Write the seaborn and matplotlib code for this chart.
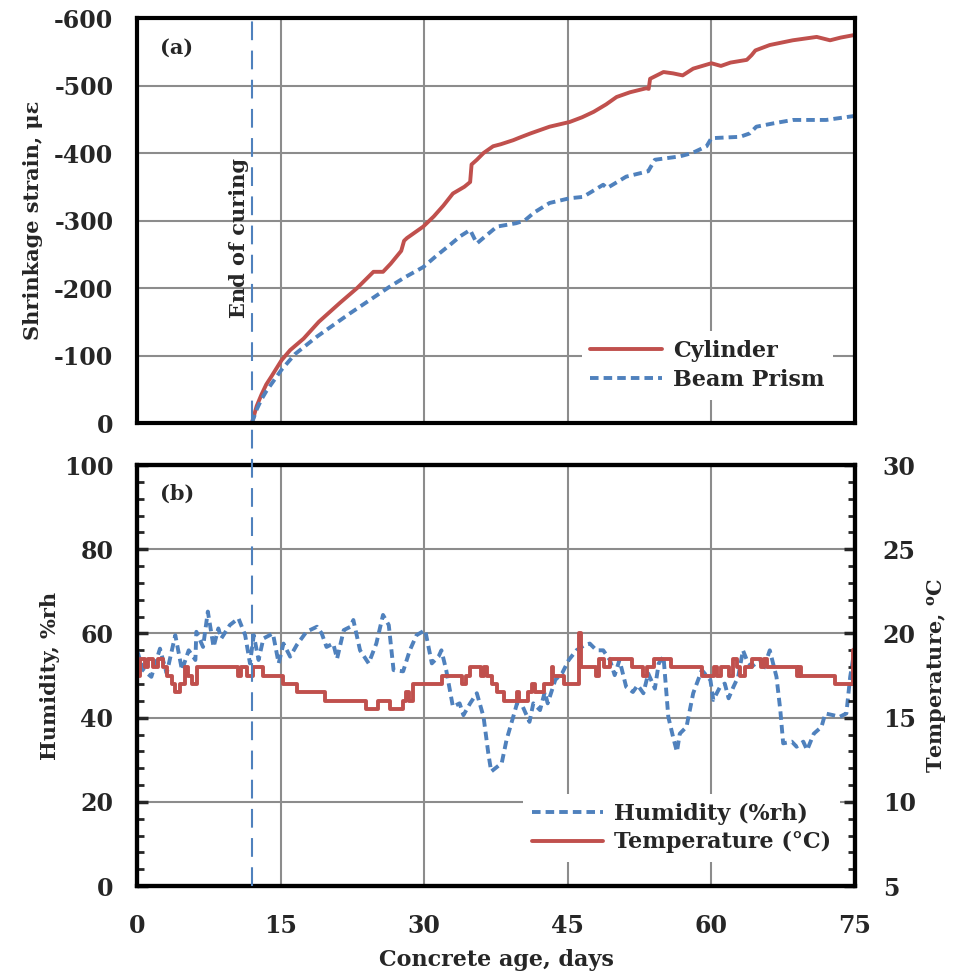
import numpy as np
import pandas as pd
import seaborn as sns
import matplotlib
import matplotlib.pyplot as plt
from matplotlib.ticker import MultipleLocator
from matplotlib.lines import Line2D
from matplotlib.transforms import blended_transform_factory

matplotlib.use('Agg')

# day when curing stopped
curing_end = 12

# (a) shrinkage strain, micro-strain
cyl_days = [12, 12.5, 13, 13.5, 14, 15.1, 16, 17.4, 19, 21.2, 23, 24.7, 25.7, 26.5, 27.6, 27.9, 28.2,
            29.9, 31, 32, 33, 34.2, 34.8, 34.95, 35.5, 36.2, 37.2, 38, 39.3, 40, 41.1, 42.1, 43.1, 45.2,
            46.5, 47.7, 49, 50.1, 51.5, 53.2, 53.45, 53.6, 55, 56, 57, 58.1, 60, 61, 62, 63.7, 64.2,
            64.6, 66.1, 68.5, 71, 72.4, 73.5, 75]
cyl_strain = [0, -25, -42, -57, -68, -93, -108, -125, -150, -178, -200, -224, -224, -236, -255, -270, -274,
              -291, -306, -322, -340, -350, -357, -383, -390, -400, -410, -413, -419, -423, -429, -434, -439,
              -446, -453, -461, -472, -483, -490, -496, -495, -510, -520, -518, -515, -525, -533, -529,
              -534, -538, -545, -552, -560, -567, -572, -567, -571, -575]

beam_days = [12, 12.5, 13, 13.5, 14, 15.1, 16.5, 18.8, 20.5, 22.2, 24.3, 26.4, 28, 29.9, 31.3, 32.7, 33.8,
             34.8, 35.5, 36.5, 37.6, 39.6, 40.5, 41.5, 43.1, 45.2, 46.6, 48.7, 49.1, 51.1, 53.4, 54.1,
             56.7, 58, 59.5, 60, 63, 64, 64.7, 66.5, 68.5, 72, 75]
beam_strain = [0, -20, -35, -47, -57, -79, -102, -128, -145, -162, -182, -202, -216, -231, -248, -264, -277,
               -286, -266, -278, -291, -296, -300, -312, -326, -333, -335, -353, -348, -365, -373, -390,
               -395, -400, -410, -422, -424, -429, -439, -444, -449, -449, -455]

# (b) ambient humidity (%rh)
hum_days = [0, 0.66, 1.5, 2.4, 3.1, 4.0, 4.7, 5.4, 6.1, 6.2,
            6.9, 7.4, 8.0, 8.5, 8.8, 9.7, 10.6, 11.3, 11.8, 12.2,
            12.7, 13.2, 14.2, 14.8, 15.3, 16.0, 16.7, 17.7, 18.8, 19.3,
            19.8, 20.5, 20.9, 21.6, 22.3, 22.6, 23.3, 24.2, 25.0, 25.7,
            26.3, 26.8, 27.8, 28.5, 29.2, 30.1, 30.8, 31.5, 31.8, 32.3,
            33.0, 33.7, 34.1, 34.8, 35.5, 36.2, 36.7, 37.0, 38.1, 38.6,
            39.3, 39.7, 40.3, 41.0, 41.4, 42.1, 42.6, 42.9, 43.7, 44.4,
            45.1, 45.9, 46.8, 47.3, 48.0, 48.7, 49.4, 49.9, 50.4, 51.1,
            51.8, 52.3, 52.9, 53.4, 54.1, 54.5, 55.0, 55.5, 56.0, 56.4,
            56.7, 57.4, 58.1, 59.0, 59.9, 60.2, 60.9, 61.4, 61.8, 62.3,
            62.8, 63.3, 63.7, 64.2, 65.1, 65.4, 66.1, 66.8, 67.2, 67.5,
            68.4, 68.9, 69.6, 70.0, 70.7, 71.5, 71.9, 72.7, 73.4, 74.1,
            74.5, 75.0]
hum_vals = [56, 51.3, 49.7, 56.4, 50.5, 59.6, 51.3, 56, 53.7, 60.4,
            56.8, 65.2, 56.8, 61.2, 58.8, 62, 63.6, 59.6, 52.9, 59.6,
            53.7, 58.8, 60, 52.9, 57.6, 54.5, 57.3, 60.4, 61.6, 60,
            56.8, 57.6, 54, 60.8, 61.6, 63.2, 56, 52.9, 57.6, 64.4,
            62, 51.3, 51, 56, 59.6, 60.8, 52.9, 54.5, 56, 51.3,
            42.6, 43.4, 40.6, 43.4, 45.8, 40.2, 31.5, 27.2, 29.2, 34.7,
            40.2, 43.4, 42.6, 39, 43.4, 41.8, 46.1, 43.4, 49, 50.5,
            53.7, 56, 57.3, 57.6, 56, 56, 53.7, 50.1, 53.7, 47.3,
            46.1, 47.7, 45.8, 50.5, 46.9, 52.9, 54.5, 40.2, 35.4, 31.9,
            36.2, 37.8, 45.8, 51.3, 48.9, 44.2, 47.3, 48.1, 44.6, 47.3,
            49.7, 56, 53.7, 52.1, 53.7, 51.3, 56, 49.7, 41.8, 33.9,
            34.3, 33.1, 34.3, 32.3, 36.2, 37.8, 41, 40.6, 40.2, 41,
            49.7, 56.8]

# (b) ambient temperature (C), logged in 0.5 degree steps
temp_days = [0, 0.3, 0.8, 1.2, 1.7, 2.2, 2.7, 3.1, 3.7, 4.0,
             4.5, 5.0, 5.3, 5.7, 6.3, 10.5, 10.9, 11.5, 12.1, 13.2,
             15.3, 16.7, 19.6, 23.9, 25.2, 26.4, 27.8, 28.1, 28.4, 28.8,
             31.9, 33.9, 34.4, 34.8, 35.9, 36.3, 36.6, 37.1, 37.6, 38.3,
             39.7, 39.9, 40.8, 41.3, 41.6, 42.5, 43.3, 43.5, 44.6, 46.2,
             46.35, 47.9, 48.3, 48.8, 49.4, 51.7, 52.9, 53.3, 54.0, 55.8,
             59.0, 60.3, 60.6, 61.0, 61.85, 62.3, 62.7, 63.0, 63.5, 64.2,
             65.15, 65.5, 65.8, 68.9, 69.2, 69.4, 72.9, 74.8, 74.95, 75.0]
temp_vals = [17.5, 18.5, 18, 18.5, 18, 18.5, 18, 17.5, 17, 16.5,
             17, 18, 17.5, 17, 18, 17.5, 18, 17.5, 18, 17.5,
             17, 16.5, 16, 15.5, 16, 15.5, 16, 16.5, 16, 17,
             17.5, 17, 17.5, 18, 17.5, 18, 17.5, 17, 16.5, 16,
             16.5, 16, 16.5, 17, 16.5, 17, 18, 17.5, 17, 20,
             18, 17.5, 18.5, 18, 18.5, 18, 17.5, 18, 18.5, 18,
             17.5, 18, 17.5, 18, 17.5, 18.5, 18, 17.5, 18, 18.5,
             18, 18.5, 18, 17.5, 18, 17.5, 17, 19, 17.5, 17.5]

sns.set_style("white")
plt.rcParams['font.family'] = ['DejaVu Serif']
plt.rcParams['font.weight'] = 'bold'
plt.rcParams['axes.unicode_minus'] = False
plt.rcParams['mathtext.fontset'] = 'dejavuserif'

red = '#C0504D'
blue = '#4F81BD'
grid_c = '#8C8C8C'

fig = plt.figure(figsize=(9.54, 9.74), dpi=100)
ax1 = fig.add_axes([0.1436, 0.5657, 0.7526, 0.4158])
ax2 = fig.add_axes([0.1436, 0.0903, 0.7526, 0.4322])
ax3 = ax2.twinx()

# ---- (a) shrinkage
sns.lineplot(x=cyl_days, y=cyl_strain, ax=ax1, color=red, lw=2.8, sort=False,
             estimator=None, label='Cylinder')
sns.lineplot(x=beam_days, y=beam_strain, ax=ax1, color=blue, lw=2.8, sort=False,
             estimator=None, linestyle=(0, (2.2, 1.3)), label='Beam Prism')

ax1.set_xlim(0, 75)
ax1.set_ylim(0, -600)
ax1.set_xticks(range(0, 76, 15))
ax1.set_yticks(range(0, -601, -100))
ax1.xaxis.set_minor_locator(MultipleLocator(3))
ax1.yaxis.set_minor_locator(MultipleLocator(20))
ax1.tick_params(which='both', direction='in', top=False, right=False, labelbottom=False)
ax1.tick_params(which='major', length=8, width=2.5, labelsize=17, pad=17)
ax1.tick_params(which='minor', length=5, width=2)
ax1.grid(True, which='major', color=grid_c, lw=1.5)
ax1.set_axisbelow(True)
ax1.set_ylabel('Shrinkage strain, με', fontsize=15, fontweight='bold', labelpad=8)
ax1.set_xlabel('')
ax1.text(0.032, 0.926, '(a)', transform=ax1.transAxes, fontsize=15, fontweight='bold',
         ha='left', va='center')
ax1.text(curing_end - 0.25, 0.457, 'End of curing',
         transform=blended_transform_factory(ax1.transData, ax1.transAxes),
         rotation=90, fontsize=15, fontweight='bold', ha='right', va='center')
leg1 = ax1.legend(loc='lower right', bbox_to_anchor=(0.985, 0.03), fontsize=16, frameon=True,
                  facecolor='white', edgecolor='none', framealpha=1, fancybox=False,
                  handlelength=3.2, handletextpad=0.5, borderpad=0.4, labelspacing=0.3)

# ---- (b) humidity / temperature
sns.lineplot(x=hum_days, y=hum_vals, ax=ax2, color=blue, lw=2.8, sort=False,
             estimator=None, linestyle=(0, (2.2, 1.3)), legend=False)
sns.lineplot(x=temp_days, y=temp_vals, ax=ax3, color=red, lw=2.8, sort=False,
             estimator=None, drawstyle='steps-post', legend=False)

ax2.set_xlim(0, 75)
ax2.set_ylim(0, 100)
ax3.set_ylim(5, 30)
ax2.set_xticks(range(0, 76, 15))
ax2.set_yticks(range(0, 101, 20))
ax3.set_yticks(range(5, 31, 5))
ax2.xaxis.set_minor_locator(MultipleLocator(3))
ax2.yaxis.set_minor_locator(MultipleLocator(4))
ax3.yaxis.set_minor_locator(MultipleLocator(1))
ax2.tick_params(which='both', direction='in', top=False, right=False)
ax2.tick_params(axis='y', which='major', length=8, width=2.5, labelsize=17, pad=17)
ax2.tick_params(axis='x', which='major', length=8, width=2.5, labelsize=17, pad=20)
ax2.tick_params(which='minor', length=5, width=2)
ax3.tick_params(which='both', direction='in')
ax3.tick_params(which='major', length=8, width=2.5, labelsize=17, pad=20)
ax3.tick_params(which='minor', length=5, width=2)
ax2.grid(True, which='major', color=grid_c, lw=1.5)
ax2.set_axisbelow(True)
ax3.grid(False)
ax2.set_ylabel('Humidity, %rh', fontsize=15, fontweight='bold', labelpad=3)
ax3.set_ylabel(r'Temperature, $^{\mathbf{o}}$C', fontsize=15, fontweight='bold', labelpad=7)
ax2.set_xlabel('Concrete age, days', fontsize=16, fontweight='bold', labelpad=8)
ax2.text(0.032, 0.933, '(b)', transform=ax2.transAxes, fontsize=15, fontweight='bold',
         ha='left', va='center')

handles = [Line2D([], [], color=blue, lw=2.8, linestyle=(0, (2.2, 1.3))),
           Line2D([], [], color=red, lw=2.8)]
ax3.legend(handles, ['Humidity (%rh)', 'Temperature (°C)'], loc='lower right',
           bbox_to_anchor=(0.995, 0.03), fontsize=16, frameon=True, facecolor='white',
           edgecolor='none', framealpha=1, fancybox=False, handlelength=3.2,
           handletextpad=0.5, borderpad=0.4, labelspacing=0.3)

for ax in (ax1, ax2, ax3):
    for sp in ax.spines.values():
        sp.set_linewidth(3)
        sp.set_color('black')

# end-of-curing marker through both panels
trans = blended_transform_factory(ax1.transData, fig.transFigure)
fig.add_artist(Line2D([curing_end, curing_end], [ax2.get_position().y0, ax1.get_position().y1],
                      transform=trans, color=blue, lw=1.5, linestyle=(0, (9, 5)), zorder=1))

fig.savefig('out.png', dpi=100)
